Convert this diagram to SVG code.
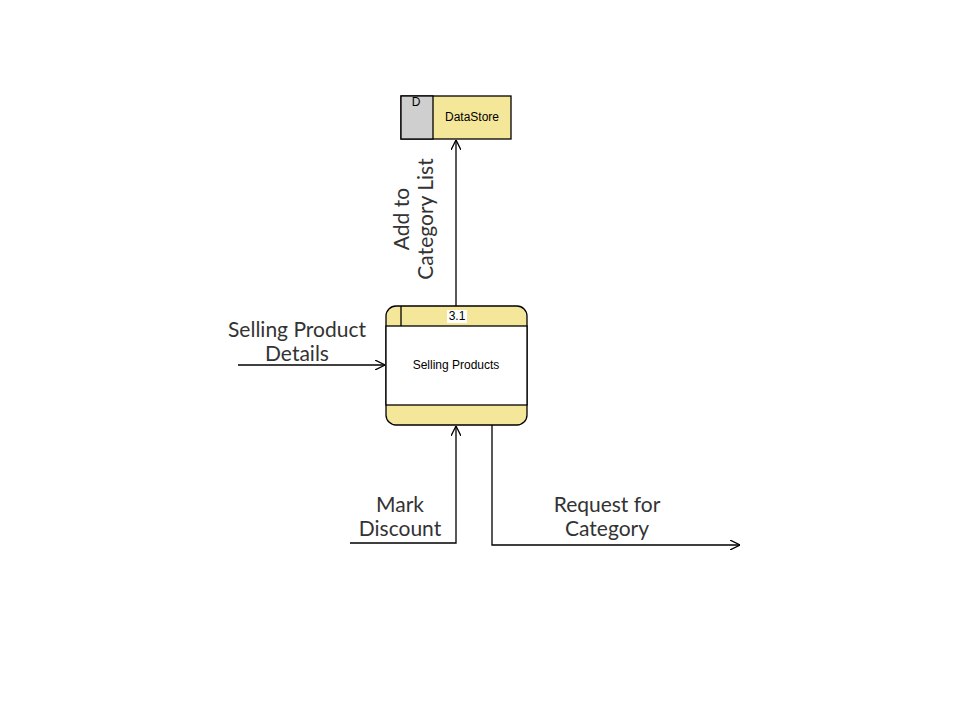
<svg xmlns="http://www.w3.org/2000/svg" width="973" height="713" viewBox="0 0 973 713">
<defs>
<style>
.lbl{font-family:Lato,"Open Sans",sans-serif;font-size:21px;fill:#333;text-anchor:middle}
.nt{font-family:"Liberation Sans",Arial,sans-serif;font-size:12px;fill:#000;text-anchor:middle}
.ln{fill:none;stroke:#000;stroke-width:1.3}
</style>
<marker id="arr" viewBox="0 0 10 10" refX="10" refY="5" markerWidth="10" markerHeight="10" markerUnits="userSpaceOnUse" orient="auto">
<path d="M0,0 L10,5 L0,10" fill="none" stroke="#000" stroke-width="1.3"/>
</marker>
</defs>
<rect width="973" height="713" fill="#fff"/>
<g id="datastore">
<rect x="401" y="96" width="110" height="43" fill="#f5e79a" stroke="#000" stroke-width="1.3"/>
<rect x="401" y="96" width="32" height="43" fill="#cfcfcf" stroke="#000" stroke-width="1.3"/>
<text class="nt" x="416" y="106">D</text>
<text class="nt" x="472" y="121">DataStore</text>
</g>
<g id="process">
<rect x="386" y="306" width="141" height="119" rx="10" fill="#f5e79a" stroke="#000" stroke-width="1.3"/>
<rect x="386" y="326" width="141" height="79" fill="#fff" stroke="#000" stroke-width="1.3"/>
<line x1="401" y1="306" x2="401" y2="326" stroke="#000" stroke-width="1.3"/>
<rect x="447" y="310" width="20" height="13" fill="#fff"/>
<text class="nt" x="457" y="320">3.1</text>
<text class="nt" x="456" y="369">Selling Products</text>
</g>
<g id="connectors">
<path class="ln" d="M456,306 L456,140" marker-end="url(#arr)"/>
<path class="ln" d="M238,365 L385,365" marker-end="url(#arr)"/>
<path class="ln" d="M350,543 L456,543 L456,426" marker-end="url(#arr)"/>
<path class="ln" d="M492,425 L492,545 L740,545" marker-end="url(#arr)"/>
</g>
<g id="labels">
<text class="lbl" x="297" y="337">Selling Product<tspan x="297" dy="24">Details</tspan></text>
<text class="lbl" x="400" y="512">Mark<tspan x="400" dy="24">Discount</tspan></text>
<text class="lbl" x="607" y="512">Request for<tspan x="607" dy="24">Category</tspan></text>
<text class="lbl" transform="translate(414,219) rotate(-90)" x="0" y="-5">Add to<tspan x="0" dy="24">Category List</tspan></text>
</g>
</svg>
